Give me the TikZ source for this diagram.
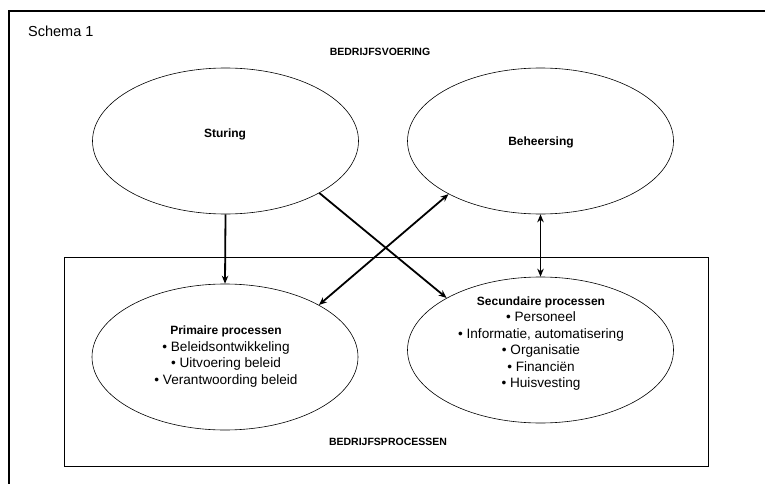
\documentclass[tikz,border=0pt]{standalone}
\usepackage{fontspec}
\setmainfont{Liberation Sans}
\usetikzlibrary{shapes.geometric,arrows.meta}
\begin{document}
\begin{tikzpicture}[x=1pt,y=-1pt,
  oval/.style={draw,ellipse,line width=0.6pt,minimum width=266pt,minimum height=146pt,inner sep=0pt},
  tip/.style={},
  conn/.style={line width=1.8pt,-{Stealth[length=8pt,width=6.5pt]}},
  dconn/.style={line width=1.8pt,{Stealth[length=8pt,width=6.5pt]}-{Stealth[length=8pt,width=6.5pt]}},
  txt/.style={font=\fontsize{13.6}{16.5}\selectfont,align=center,inner sep=0pt},
  ttl/.style={font=\fontsize{12}{16.5}\selectfont\bfseries,inner sep=0pt},
  hdr/.style={font=\fontsize{10.5}{12}\selectfont\bfseries,inner sep=0pt}]
\useasboundingbox (0,0) rectangle (765,484);
\fill[white] (0,0) rectangle (765,484);
% outer frame
\coordinate (fa) at (9,484);
\coordinate (fb) at (9,11);
\coordinate (fc) at (765,11);
\draw[line width=1.5pt] (fa) -- (fb) -- (fc);
% inner rectangle
\node[draw,line width=0.6pt,minimum width=644pt,minimum height=209pt,inner sep=0pt] (box) at (386,361.5) {};
\node[font=\fontsize{14.5}{16}\selectfont,inner sep=0pt,anchor=west] (schema) at (28,31) {Schema 1};
\node[hdr] (bv) at (380,52) {BEDRIJFSVOERING};
\node[hdr] (bp) at (388,442) {BEDRIJFSPROCESSEN};
% ellipses
\node[oval] (stu) at (225.5,141) {};
\node[oval] (beh) at (540.5,141) {};
\node[oval] (prim) at (225,357) {};
\node[oval] (sec) at (540.5,350) {};
% texts
\node[ttl] (tstu) at (225,134) {Sturing};
\node[ttl] (tbeh) at (541,142) {Beheersing};
\node[txt] (tprim) at (226,356.5) {{\fontsize{12}{16.5}\selectfont\bfseries Primaire processen}\\• Beleidsontwikkeling\\• Uitvoering beleid\\• Verantwoording beleid};
\node[txt] (tsec) at (541,343.5) {{\fontsize{12}{16.5}\selectfont\bfseries Secundaire processen}\\• Personeel\\• Informatie, automatisering\\• Organisatie\\• Financiën\\• Huisvesting};
% connectors
\draw[conn] (stu.south) -- (prim.north);
\draw[dconn] (beh.south) -- (sec.north);
\draw[conn] (stu.-29) -- (sec.151);
\draw[dconn] (prim.29) -- (beh.210);
\end{tikzpicture}
\end{document}
